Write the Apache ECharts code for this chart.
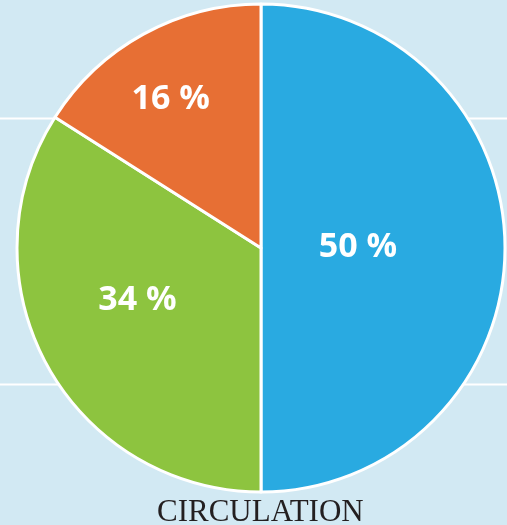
<!DOCTYPE html>
<html>
<head>
<meta charset="utf-8">
<script src="https://cdn.jsdelivr.net/npm/echarts@6/dist/echarts.min.js"></script>
<style>
  html, body { margin: 0; padding: 0; background: #d2e9f3; }
  #main { width: 507px; height: 525px; }
</style>
</head>
<body>
<div id="main"></div>
<script>
// data
var names = ['A', 'B', 'C'];
var values = [50, 34, 16];
var colors = ['#29aae1', '#8dc43f', '#e76f34'];
// nudges so labels sit where the original has them
var labelShift = [[-28, -1], [-14, -8], [-30, -39]];

var chart = echarts.init(document.getElementById('main'));

var pieData = values.map(function (v, i) {
  return { name: names[i], value: v, itemStyle: { color: colors[i] } };
});

chart.setOption({
  backgroundColor: '#d2e9f3',
  animation: false,
  title: {
    text: 'CIRCULATION',
    left: 157,
    top: 497,
    padding: 0,
    textStyle: {
      fontFamily: 'Liberation Serif',
      fontWeight: 'normal',
      fontSize: 31,
      color: '#231f20'
    }
  },
  graphic: [
    { type: 'line', z: -1, shape: { x1: 0, y1: 118.5, x2: 507, y2: 118.5 }, style: { stroke: '#ffffff', lineWidth: 2 } },
    { type: 'line', z: -1, shape: { x1: 0, y1: 384.5, x2: 507, y2: 384.5 }, style: { stroke: '#ffffff', lineWidth: 2 } }
  ],
  series: [{
    type: 'pie',
    center: [261, 248],
    radius: 244,
    startAngle: 90,
    clockwise: true,
    itemStyle: { borderColor: '#ffffff', borderWidth: 3 },
    label: {
      position: 'inside',
      formatter: '{c} %',
      color: '#ffffff',
      fontFamily: 'Open Sans',
      fontWeight: 'bold',
      fontSize: 34
    },
    labelLayout: function (p) {
      var s = labelShift[p.dataIndex];
      return { dx: s[0], dy: s[1] };
    },
    labelLine: { show: false },
    emphasis: { disabled: true },
    data: pieData
  }]
});
</script>
</body>
</html>
